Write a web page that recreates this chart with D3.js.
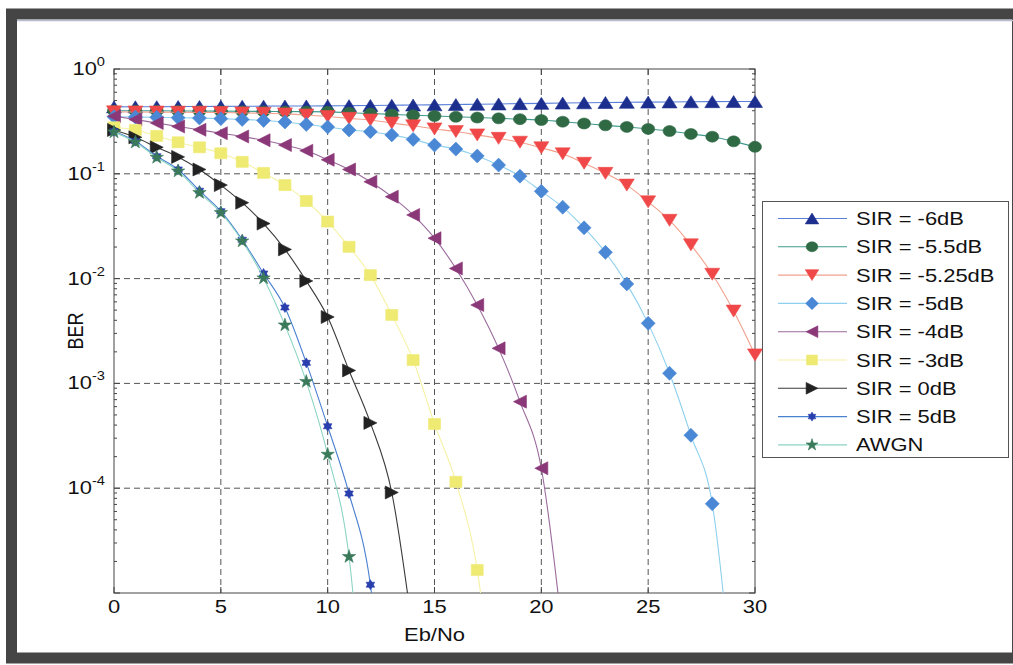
<!DOCTYPE html>
<html>
<head>
<meta charset="utf-8">
<script src="https://cdn.jsdelivr.net/npm/d3@7"></script>
<style>
  body { margin: 0; background: #fff; }
  svg { display: block; }
  text { font-family: "Liberation Sans", Arial, sans-serif; fill: #111; }
</style>
</head>
<body>
<svg id="chart" width="1013" height="665"></svg>
<script>
// ---- data ----
const ebno = [0,1,2,3,4,5,6,7,8,9,10,11,12,13,14,15,16,17,18,19,20,21,22,23,24,25,26,27,28,29,30];

const sirM6   = [0.435,0.436,0.437,0.438,0.439,0.44,0.441,0.442,0.443,0.444,0.445,0.447,0.449,0.451,0.453,0.455,0.458,0.461,0.464,0.467,0.47,0.473,0.476,0.479,0.481,0.483,0.485,0.487,0.488,0.489,0.49];
const sirM55  = [0.40,0.40,0.399,0.398,0.397,0.396,0.395,0.394,0.393,0.392,0.39,0.383,0.376,0.369,0.362,0.356,0.35,0.344,0.338,0.332,0.326,0.314,0.302,0.29,0.28,0.268,0.256,0.24,0.226,0.204,0.181];
const sirM525 = [0.39,0.389,0.388,0.387,0.386,0.384,0.381,0.378,0.373,0.364,0.352,0.338,0.326,0.305,0.287,0.268,0.253,0.235,0.218,0.2,0.177,0.155,0.126,0.101,0.078,0.054,0.036,0.021,0.011,0.0049,0.00187];
const sirM5   = [0.35,0.348,0.346,0.343,0.34,0.336,0.33,0.323,0.312,0.296,0.28,0.262,0.252,0.235,0.213,0.188,0.172,0.148,0.121,0.095,0.068,0.048,0.0305,0.0178,0.0089,0.00374,0.00125,0.00032,0.000071,0.000001];
const sirM4   = [0.355,0.33,0.305,0.283,0.263,0.244,0.227,0.209,0.188,0.166,0.136,0.11,0.084,0.0605,0.0405,0.0243,0.0125,0.0056,0.00216,0.00067,0.000155,0.000004];
const sirM3   = [0.278,0.262,0.23,0.2,0.179,0.157,0.13,0.102,0.078,0.055,0.035,0.0201,0.0108,0.0045,0.00167,0.00041,0.000115,0.0000166,0.0000003];
const sir0    = [0.262,0.223,0.179,0.145,0.11,0.078,0.053,0.0335,0.019,0.0095,0.0043,0.00133,0.00042,0.000091,0.000004];
const sir5    = [0.255,0.205,0.147,0.11,0.069,0.044,0.0235,0.0112,0.0053,0.00157,0.00039,0.000089,0.000012,0.0000001];
const awgn    = [0.25,0.2,0.143,0.106,0.066,0.0425,0.0228,0.0101,0.0036,0.00104,0.00021,0.0000222,0.0000001];

const xTicks = [0,5,10,15,20,25,30];
const yTicks = [1,0.1,0.01,0.001,0.0001];
const yTickExp = ["0","-1","-2","-3","-4"];

const legendLabels = ["SIR = -6dB","SIR = -5.5dB","SIR = -5.25dB","SIR = -5dB","SIR = -4dB","SIR = -3dB","SIR = 0dB","SIR = 5dB","AWGN"];

// ---- styles ----
const styles = [
  {line:"#5a7fd8", face:"#1d2f8e", shape:"up",       w:15, h:12},
  {line:"#3f9a8c", face:"#2f6a45", shape:"circle",   w:13, h:11},
  {line:"#f2a08c", face:"#f04848", shape:"down",     w:15, h:12},
  {line:"#8fd0ee", face:"#4a88d6", shape:"diamond",  w:14, h:14},
  {line:"#9a6a9c", face:"#8a3878", shape:"left",     w:13, h:13},
  {line:"#f6f2a6", face:"#eeea72", shape:"square",   w:12, h:11},
  {line:"#3a3a3a", face:"#222222", shape:"right",    w:13, h:13},
  {line:"#4a80d0", face:"#2a3fae", shape:"hexagram", w:10, h:10},
  {line:"#8cd4c4", face:"#3a7a5a", shape:"star",     w:10, h:10}
];
const allSeries = [sirM6, sirM55, sirM525, sirM5, sirM4, sirM3, sir0, sir5, awgn];

const svg = d3.select("#chart");
const W = 1013, H = 665;
const margin = {left: 114, top: 69, right: 258, bottom: 72};
const x = d3.scaleLinear().domain([0, 30]).range([margin.left, W - margin.right]);
const y = d3.scaleLog().domain([1e-5, 1]).range([H - margin.bottom, margin.top]);
const stretch = "scale(1.22,1)";

// window frame
svg.append("rect").attr("width", W).attr("height", H).attr("fill", "#fff");
svg.append("rect").attr("x", 11.5).attr("y", 14).attr("width", 1006).attr("height", 644)
  .attr("fill", "none").attr("stroke", "#454545").attr("stroke-width", 11);
svg.append("line").attr("x1", 17).attr("x2", W).attr("y1", 20.5).attr("y2", 20.5)
  .attr("stroke", "#b8bcd0").attr("stroke-width", 1.5);

// plot area
svg.append("defs").append("clipPath").attr("id", "clip")
  .append("rect").attr("x", x(0)).attr("y", y(1)).attr("width", x(30) - x(0)).attr("height", y(1e-5) - y(1));

const grid = svg.append("g").attr("stroke", "#555").attr("stroke-dasharray", "6,4").attr("stroke-width", 1);
grid.selectAll(".gx").data(xTicks.slice(1, -1)).join("line")
  .attr("x1", d => x(d)).attr("x2", d => x(d)).attr("y1", y(1)).attr("y2", y(1e-5));
grid.selectAll(".gy").data(yTicks.slice(1)).join("line")
  .attr("x1", x(0)).attr("x2", x(30)).attr("y1", d => y(d)).attr("y2", d => y(d));

// axes box + ticks
const axes = svg.append("g").attr("stroke", "#444").attr("stroke-width", 1);
axes.append("rect").attr("x", x(0)).attr("y", y(1)).attr("width", x(30) - x(0)).attr("height", y(1e-5) - y(1))
  .attr("fill", "none");
xTicks.forEach(t => {
  axes.append("line").attr("x1", x(t)).attr("x2", x(t)).attr("y1", y(1e-5)).attr("y2", y(1e-5) - 6);
  axes.append("line").attr("x1", x(t)).attr("x2", x(t)).attr("y1", y(1)).attr("y2", y(1) + 6);
});
y.ticks().forEach(t => {
  const major = Math.abs(Math.log10(t) - Math.round(Math.log10(t))) < 1e-9;
  const len = major ? 6 : 3;
  axes.append("line").attr("x1", x(0)).attr("x2", x(0) + len).attr("y1", y(t)).attr("y2", y(t));
  axes.append("line").attr("x1", x(30)).attr("x2", x(30) - len).attr("y1", y(t)).attr("y2", y(t));
});

// tick labels
svg.selectAll(".xl").data(xTicks).join("text")
  .attr("transform", d => `translate(${x(d)},${y(1e-5) + 20}) ${stretch}`)
  .attr("text-anchor", "middle").attr("font-size", 18).text(d => d);

yTicks.forEach((t, i) => {
  const tx = svg.append("text")
    .attr("transform", `translate(${x(0) - 9},${y(t) + 6}) ${stretch}`)
    .attr("text-anchor", "end").attr("font-size", 18);
  tx.append("tspan").text("10");
  tx.append("tspan").attr("font-size", 12).attr("dy", -9).text(yTickExp[i]);
});

svg.append("text").attr("transform", `translate(${(x(0) + x(30)) / 2},${H - 24}) ${stretch}`)
  .attr("text-anchor", "middle").attr("font-size", 18).text("Eb/No");
svg.append("text").attr("transform", `translate(83,${(y(1) + y(1e-5)) / 2}) ${stretch} rotate(-90)`)
  .attr("text-anchor", "middle").attr("font-size", 18).text("BER");

// marker shapes
function markerPath(shape, w, h) {
  const a = w / 2, b = h / 2;
  switch (shape) {
    case "up": return `M0,${-b}L${a},${b}L${-a},${b}Z`;
    case "down": return `M0,${b}L${a},${-b}L${-a},${-b}Z`;
    case "left": return `M${-a},0L${a},${-b}L${a},${b}Z`;
    case "right": return `M${a},0L${-a},${-b}L${-a},${b}Z`;
    case "diamond": return `M0,${-b}L${a},0L0,${b}L${-a},0Z`;
    case "square": return `M${-a},${-b}H${a}V${b}H${-a}Z`;
    case "circle": return `M${-a},0A${a},${b} 0 1,0 ${a},0A${a},${b} 0 1,0 ${-a},0Z`;
    case "hexagram": {
      const r = a;
      const tri = k => d3.range(3).map(j => {
        const ang = -Math.PI / 2 + k * Math.PI / 3 + j * 2 * Math.PI / 3;
        return [r * Math.cos(ang), r * Math.sin(ang)];
      });
      const p = t => "M" + t.map(q => q.join(",")).join("L") + "Z";
      return p(tri(0)) + p(tri(1));
    }
    case "star": return d3.symbol(d3.symbolStar, w * h * 0.55)();
  }
}

const line = d3.line()
  .x((d, i) => x(ebno[i]))
  .y(d => y(d))
  .curve(d3.curveMonotoneX);

const plot = svg.append("g");
allSeries.forEach((vals, k) => {
  const s = styles[k];
  plot.append("path").attr("clip-path", "url(#clip)")
    .attr("d", line(vals)).attr("fill", "none").attr("stroke", s.line).attr("stroke-width", 1.1);
  const pts = vals.map((v, i) => [ebno[i], v]).filter(p => p[1] >= 1e-5);
  plot.append("g").selectAll("path").data(pts).join("path")
    .attr("transform", p => `translate(${x(p[0])},${y(p[1])})`)
    .attr("d", markerPath(s.shape, s.w, s.h))
    .attr("fill", s.face).attr("stroke", s.face).attr("stroke-width", 0.6);
});

// legend
const lg = svg.append("g");
lg.append("rect").attr("x", 762.5).attr("y", 201.5).attr("width", 246).attr("height", 256)
  .attr("fill", "#fff").attr("stroke", "#555").attr("stroke-width", 1);
legendLabels.forEach((lab, k) => {
  const s = styles[k];
  const cy = 218.5 + k * 28.3;
  lg.append("line").attr("x1", 778).attr("x2", 847).attr("y1", cy).attr("y2", cy)
    .attr("stroke", s.line).attr("stroke-width", 1.1);
  lg.append("path").attr("transform", `translate(812,${cy})`)
    .attr("d", markerPath(s.shape, s.w * 0.9, s.h * 0.9)).attr("fill", s.face).attr("stroke", s.face).attr("stroke-width", 0.6);
  lg.append("text").attr("transform", `translate(856,${cy + 6.5}) ${stretch}`)
    .attr("font-size", 18).text(lab);
});
</script>
</body>
</html>
